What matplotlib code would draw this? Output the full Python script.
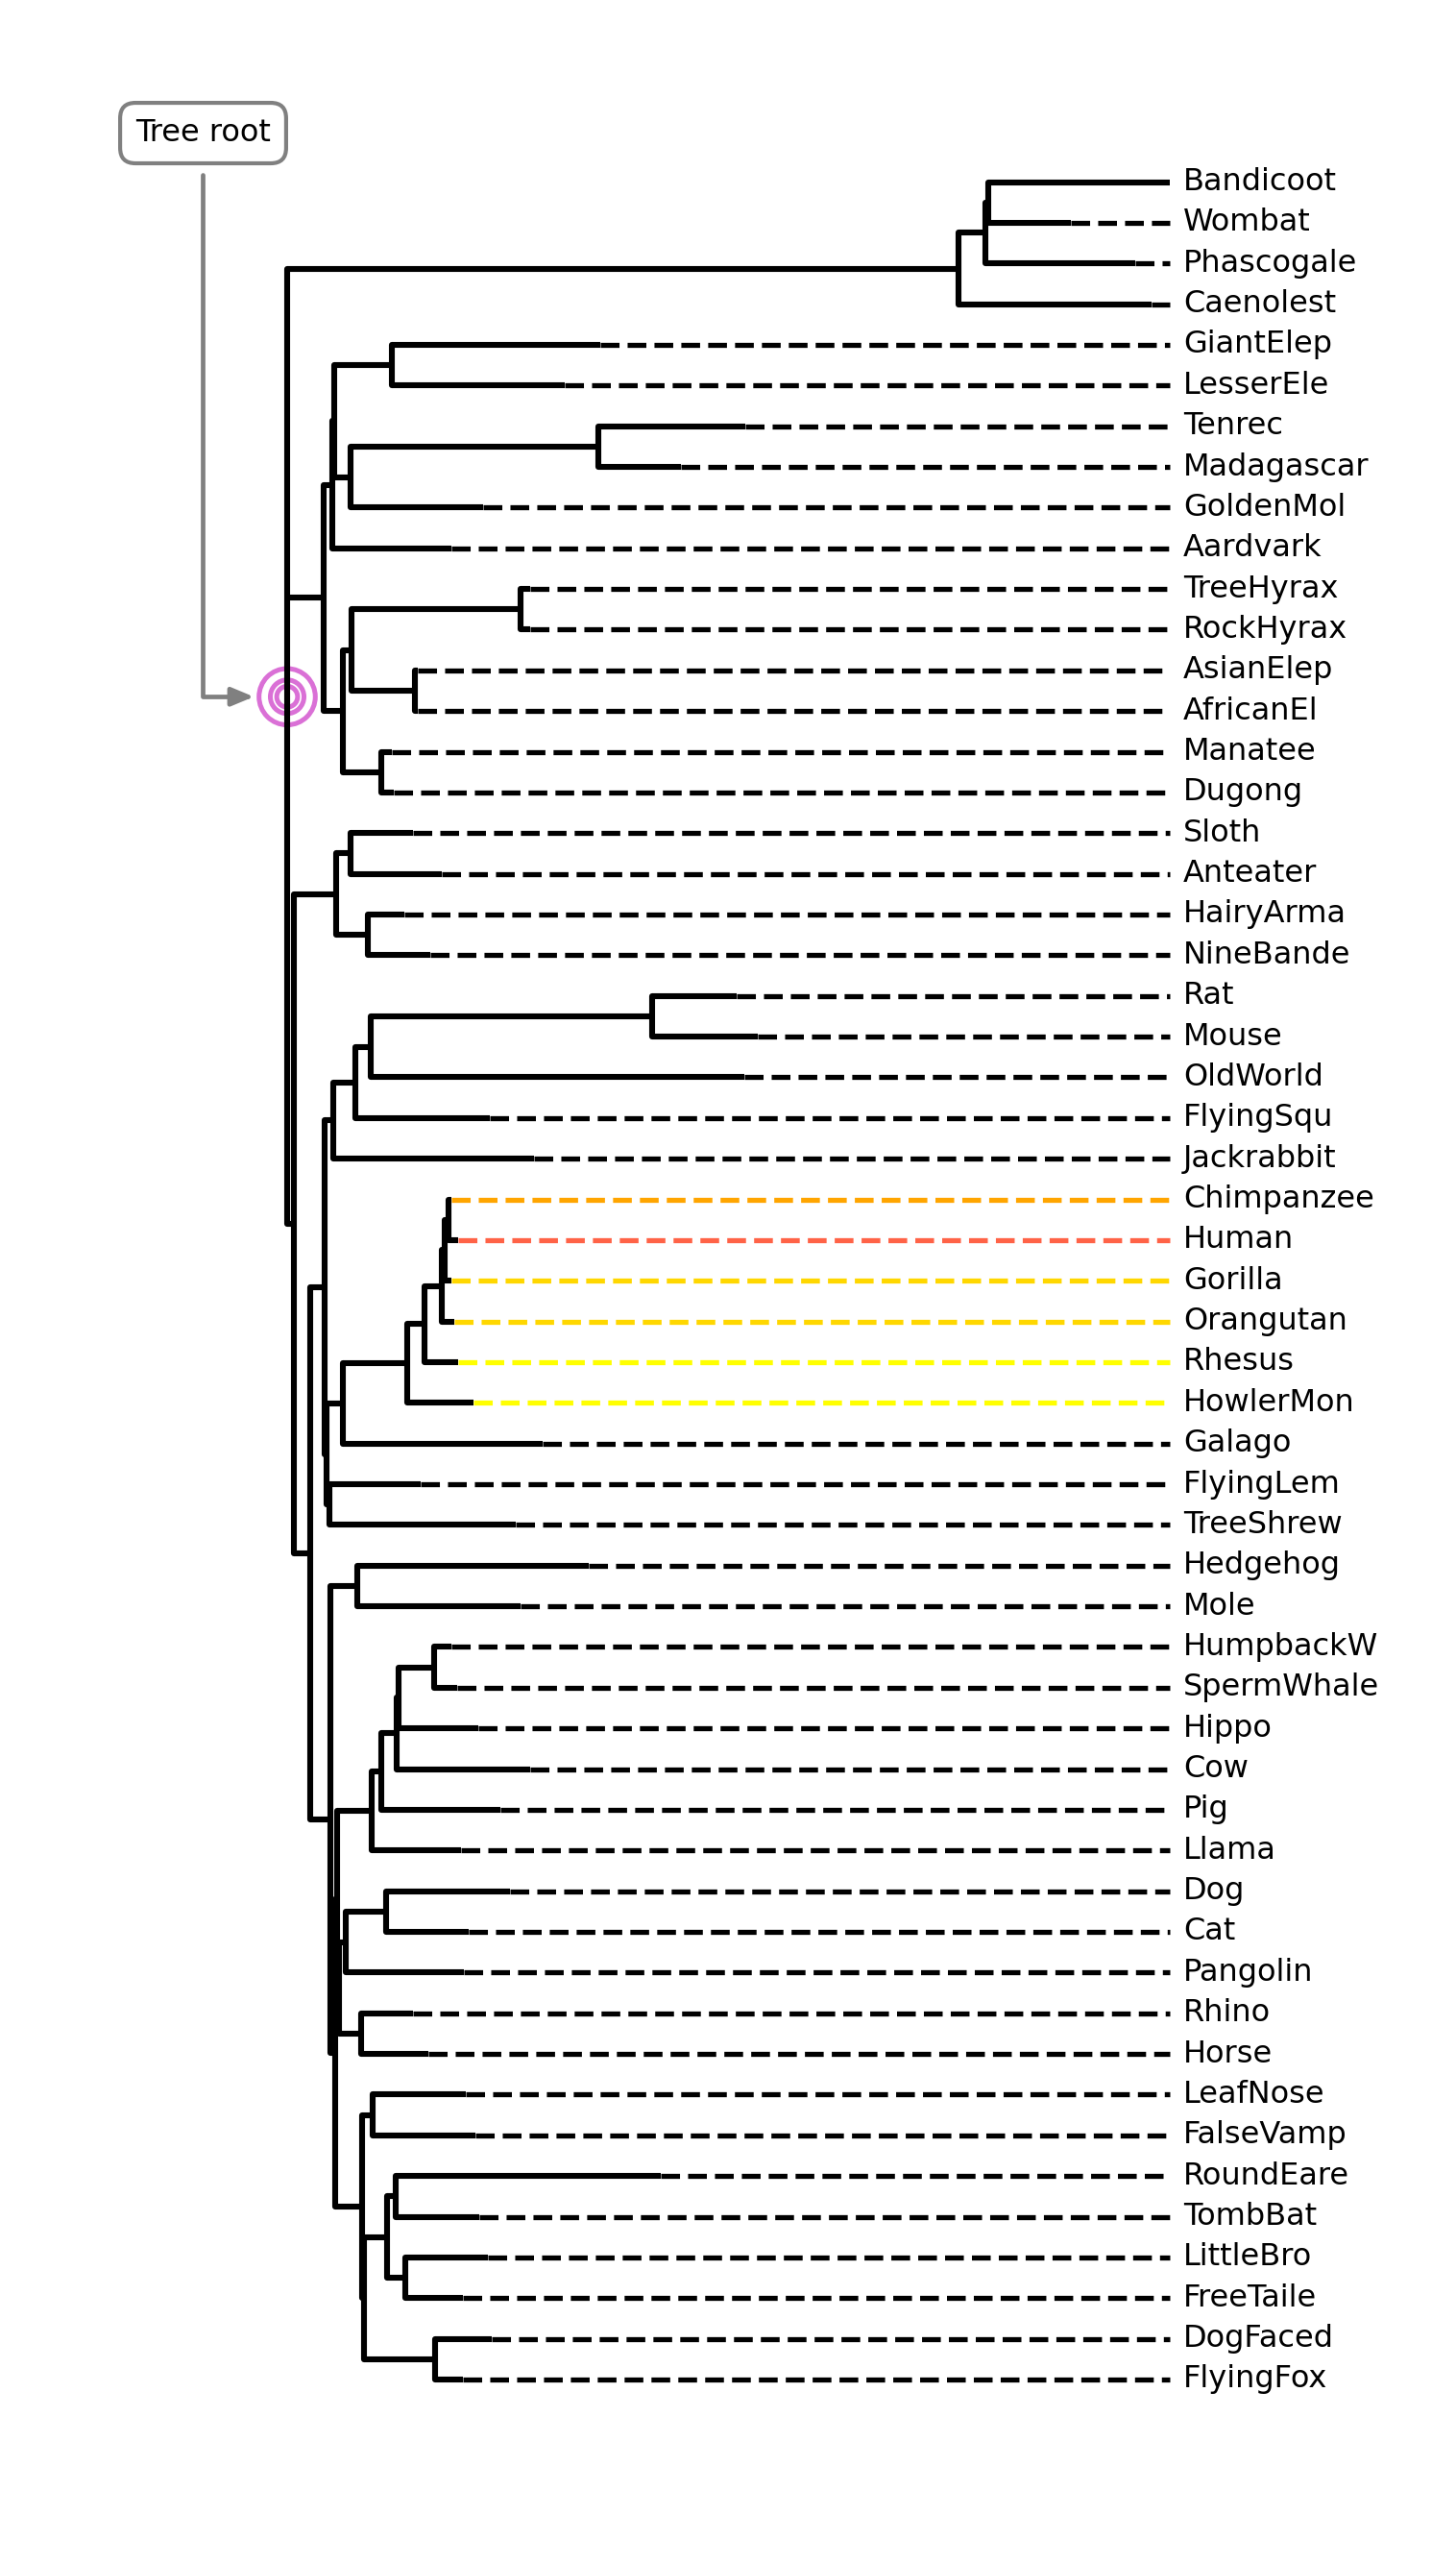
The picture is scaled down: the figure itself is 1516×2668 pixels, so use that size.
import matplotlib
matplotlib.use("Agg")
import matplotlib.pyplot as plt

# Leaves, top to bottom, and their distance from the root
leaf_names = [
    "Bandicoot", "Wombat", "Phascogale", "Caenolest", "GiantElep", "LesserEle",
    "Tenrec", "Madagascar", "GoldenMol", "Aardvark", "TreeHyrax", "RockHyrax",
    "AsianElep", "AfricanEl", "Manatee", "Dugong", "Sloth", "Anteater",
    "HairyArma", "NineBande", "Rat", "Mouse", "OldWorld", "FlyingSqu",
    "Jackrabbit", "Chimpanzee", "Human", "Gorilla", "Orangutan", "Rhesus",
    "HowlerMon", "Galago", "FlyingLem", "TreeShrew", "Hedgehog", "Mole",
    "HumpbackW", "SpermWhale", "Hippo", "Cow", "Pig", "Llama", "Dog", "Cat",
    "Pangolin", "Rhino", "Horse", "LeafNose", "FalseVamp", "RoundEare",
    "TombBat", "LittleBro", "FreeTaile", "DogFaced", "FlyingFox",
]
leaf_depth = [
    0.919, 0.816, 0.883, 0.900, 0.326, 0.289,
    0.477, 0.410, 0.204, 0.171, 0.253, 0.253,
    0.136, 0.136, 0.109, 0.111, 0.131, 0.161,
    0.122, 0.149, 0.468, 0.490, 0.476, 0.211,
    0.257, 0.171, 0.178, 0.171, 0.174, 0.178,
    0.194, 0.266, 0.139, 0.238, 0.314, 0.243,
    0.171, 0.177, 0.199, 0.253, 0.222, 0.181, 0.232, 0.189,
    0.184, 0.131, 0.147, 0.186, 0.196, 0.389,
    0.200, 0.209, 0.183, 0.213, 0.183,
]

# Internal clades: children and distance from the root
clade_names = [
    "root", "Marsupialia", "Mars1", "Mars2",
    "Afrotheria", "Afro1", "Afro2", "ElephShrews", "TenrecGold", "Tenrecs",
    "Paenung", "Paenung2", "Hyraxes", "Elephants", "Sirenia",
    "Placentalia2", "Xenarthra", "Pilosa", "Armadillos",
    "Boreoeutheria", "Euarchontoglires", "Glires", "Glires2", "Rodents", "Murids",
    "Euarchonta", "Primates", "Anthropoids", "Catarrhines", "Hominids",
    "Hominids2", "Hominini", "Sundatheria",
    "Laurasiatheria", "Eulipotyphla", "Scrotifera", "Fereuungulata",
    "Cetartio", "Cetartio2", "Cetartio3", "Whippo", "Whales",
    "FeraePeriss", "Ferae", "Carnivora", "Perissodactyla",
    "Chiroptera", "Noctilionoids", "Bats2", "Bats3", "Emballonuroids",
    "Vespertilionoids", "Pteropodids",
]
clade_children = [
    ["Marsupialia", "Afrotheria", "Placentalia2"],
    ["Mars1", "Caenolest"], ["Mars2", "Phascogale"], ["Bandicoot", "Wombat"],
    ["Afro1", "Paenung"], ["Afro2", "Aardvark"], ["ElephShrews", "TenrecGold"],
    ["GiantElep", "LesserEle"], ["Tenrecs", "GoldenMol"], ["Tenrec", "Madagascar"],
    ["Paenung2", "Sirenia"], ["Hyraxes", "Elephants"], ["TreeHyrax", "RockHyrax"],
    ["AsianElep", "AfricanEl"], ["Manatee", "Dugong"],
    ["Xenarthra", "Boreoeutheria"], ["Pilosa", "Armadillos"],
    ["Sloth", "Anteater"], ["HairyArma", "NineBande"],
    ["Euarchontoglires", "Laurasiatheria"], ["Glires", "Euarchonta"],
    ["Glires2", "Jackrabbit"], ["Rodents", "FlyingSqu"], ["Murids", "OldWorld"],
    ["Rat", "Mouse"],
    ["Primates", "Sundatheria"], ["Anthropoids", "Galago"],
    ["Catarrhines", "HowlerMon"], ["Hominids", "Rhesus"], ["Hominids2", "Orangutan"],
    ["Hominini", "Gorilla"], ["Chimpanzee", "Human"], ["FlyingLem", "TreeShrew"],
    ["Eulipotyphla", "Scrotifera"], ["Hedgehog", "Mole"],
    ["Fereuungulata", "Chiroptera"], ["Cetartio", "FeraePeriss"],
    ["Cetartio2", "Llama"], ["Cetartio3", "Pig"], ["Whippo", "Cow"],
    ["Whales", "Hippo"], ["HumpbackW", "SpermWhale"],
    ["Ferae", "Perissodactyla"], ["Carnivora", "Pangolin"], ["Dog", "Cat"],
    ["Rhino", "Horse"],
    ["Noctilionoids", "Bats2"], ["LeafNose", "FalseVamp"], ["Bats3", "Pteropodids"],
    ["Emballonuroids", "Vespertilionoids"], ["RoundEare", "TombBat"],
    ["LittleBro", "FreeTaile"], ["DogFaced", "FlyingFox"],
]
clade_depth = [
    0.000, 0.699, 0.727, 0.730,
    0.038, 0.047, 0.049, 0.109, 0.066, 0.324,
    0.058, 0.067, 0.243, 0.133, 0.098,
    0.007, 0.051, 0.066, 0.084,
    0.024, 0.039, 0.048, 0.071, 0.087, 0.380,
    0.041, 0.058, 0.125, 0.143, 0.161,
    0.164, 0.168, 0.044,
    0.045, 0.073, 0.050, 0.052,
    0.088, 0.098, 0.114, 0.116, 0.153,
    0.054, 0.061, 0.103, 0.077,
    0.078, 0.089, 0.080, 0.104, 0.113,
    0.123, 0.154,
]

# Primate tips get coloured guide lines
tip_colors = {
    "Chimpanzee": "orange", "Human": "tomato", "Gorilla": "gold",
    "Orangutan": "gold", "Rhesus": "yellow", "HowlerMon": "yellow",
}

# Layout: leaves on integer rows, clades at the mean of their children
children = dict(zip(clade_names, clade_children))
xpos = dict(zip(leaf_names, leaf_depth))
xpos.update(zip(clade_names, clade_depth))
ypos = {name: i for i, name in enumerate(leaf_names)}


def get_y(name):
    if name not in ypos:
        ys = [get_y(c) for c in children[name]]
        ypos[name] = sum(ys) / len(ys)
    return ypos[name]


get_y("root")

fig = plt.figure(figsize=(7.58, 13.34), dpi=200)
ax = fig.add_axes([0, 0, 1, 1])
ax.set_xlim(-0.299, 1.217)
ax.set_ylim(58.51, -4.474)
ax.axis("off")

# Branches
for name, kids in children.items():
    x0 = xpos[name]
    ys = [ypos[k] for k in kids]
    ax.plot([x0, x0], [min(ys), max(ys)], color="black", lw=2.2,
            solid_capstyle="round", zorder=2)
    for k in kids:
        ax.plot([x0, xpos[k]], [ypos[k], ypos[k]], color="black", lw=2.2,
                solid_capstyle="butt", zorder=2)

# Guide lines to the aligned labels
max_depth = max(leaf_depth)
for name, d in zip(leaf_names, leaf_depth):
    if d < max_depth:
        ax.plot([d, max_depth], [ypos[name], ypos[name]], "--",
                color=tip_colors.get(name, "black"), lw=1.9, zorder=1)
    ax.text(max_depth + 0.014, ypos[name], name, ha="left", va="center",
            fontsize=11.5)

# Root marker (under the branches)
root_y = ypos["root"]
ax.scatter([0, 0, 0], [root_y] * 3, s=[445, 159, 61], facecolors="none",
           edgecolors="orchid", linewidths=1.8, zorder=1.5)

ax.annotate("Tree root", xy=(0, root_y), xytext=(-0.0875, -1.204),
            ha="center", va="center", fontsize=11.5,
            bbox=dict(boxstyle="round,pad=0.5", fc="white", ec="gray", lw=1.5),
            arrowprops=dict(arrowstyle="-|>,head_length=0.6,head_width=0.25",
                            color="gray", lw=1.7, shrinkA=4, shrinkB=12.5,
                            connectionstyle="angle,angleA=-90,angleB=180,rad=0"))

fig.savefig("out.png", dpi=200)
